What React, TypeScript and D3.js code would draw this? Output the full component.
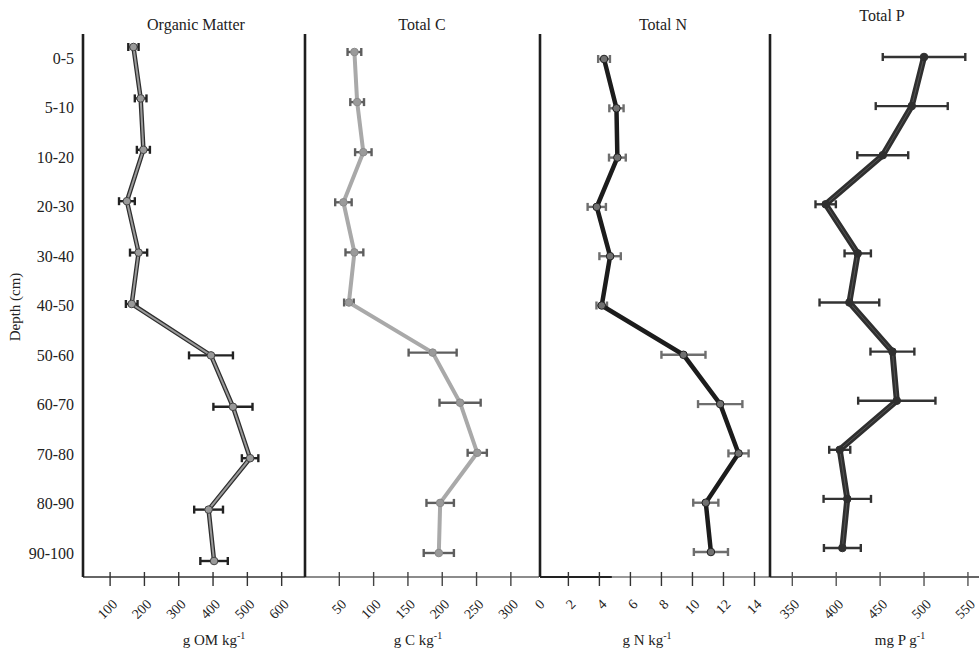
import React from "react";
import * as d3 from "d3";

const depths = ["0-5", "5-10", "10-20", "20-30", "30-40", "40-50", "50-60", "60-70", "70-80", "80-90", "90-100"];

const omMean = [168, 189, 197, 149, 183, 163, 394, 458, 508, 387, 403];
const omErr = [15, 17, 19, 23, 25, 17, 64, 57, 24, 42, 40];
const cMean = [72, 76, 85, 56, 72, 64, 186, 226, 251, 197, 195];
const cErr = [10, 10, 12, 12, 13, 7, 35, 30, 14, 20, 22];
const nMean = [4.3, 5.1, 5.16, 3.83, 4.69, 4.15, 9.42, 11.79, 12.97, 10.86, 11.19];
const nErr = [0.38, 0.46, 0.54, 0.59, 0.69, 0.34, 1.42, 1.43, 0.65, 0.81, 1.1];
const pMean = [500, 486, 453, 388, 424.5, 415, 464, 469, 404, 412.6, 407];
const pErr = [47, 41, 29, 11.6, 15, 34, 25, 44, 12, 27, 21];

const omTicks = [100, 200, 300, 400, 500, 600];
const cTicks = [50, 100, 150, 200, 250, 300];
const nTicks = [0, 2, 4, 6, 8, 10, 12, 14];
const pTicks = [350, 400, 450, 500, 550];

const titles = ["Organic Matter", "Total C", "Total N", "Total P"];
const units = [["g OM kg", "-1"], ["g C kg", "-1"], ["g N kg", "-1"], ["mg P g", "-1"]];

const FONT = "Liberation Serif, Tinos, DejaVu Serif, serif";
const AXIS_Y = 577;
const WALL_TOP = 34;

type Panel = {
  mean: number[];
  err: number[];
  ticks: number[];
  domain: [number, number];
  range: [number, number];
  yRange: [number, number];
  title: string;
  titleX: number;
  titleY: number;
  unit: string[];
  unitX: number;
  lineOuter: string;
  lineOuterW: number;
  lineInner: string | null;
  lineInnerW: number;
  dotFill: string;
  dotStroke: string;
  errColor: string;
  axisColor: string;
  tickColor: string;
  skipTick0: boolean;
};

const panels: Panel[] = [
  {
    mean: omMean, err: omErr, ticks: omTicks, domain: [21, 668], range: [83, 305], yRange: [47, 561],
    title: titles[0], titleX: 196, titleY: 30, unit: units[0], unitX: 214,
    lineOuter: "#2e2e2e", lineOuterW: 4.5, lineInner: "#9a9a9a", lineInnerW: 2,
    dotFill: "#999", dotStroke: "#444", errColor: "#222", axisColor: "#333", tickColor: "#333", skipTick0: false,
  },
  {
    mean: cMean, err: cErr, ticks: cTicks, domain: [0, 341], range: [305, 539], yRange: [52, 553],
    title: titles[1], titleX: 422, titleY: 30, unit: units[1], unitX: 418,
    lineOuter: "#a9a9a9", lineOuterW: 4, lineInner: null, lineInnerW: 0,
    dotFill: "#9a9a9a", dotStroke: "#8a8a8a", errColor: "#5e5e5e", axisColor: "#666", tickColor: "#444", skipTick0: false,
  },
  {
    mean: nMean, err: nErr, ticks: nTicks, domain: [0.17, 15.0], range: [540, 770], yRange: [59, 552],
    title: titles[2], titleX: 663, titleY: 30, unit: units[2], unitX: 647,
    lineOuter: "#1c1c1c", lineOuterW: 4.5, lineInner: null, lineInnerW: 0,
    dotFill: "#707070", dotStroke: "#222", errColor: "#6e6e6e", axisColor: "#777", tickColor: "#333", skipTick0: true,
  },
  {
    mean: pMean, err: pErr, ticks: pTicks, domain: [324.6, 562.6], range: [770, 979], yRange: [57, 548],
    title: titles[3], titleX: 882, titleY: 21, unit: units[3], unitX: 900,
    lineOuter: "#2f2f2f", lineOuterW: 6, lineInner: "#555", lineInnerW: 1,
    dotFill: "#2f2f2f", dotStroke: "#2f2f2f", errColor: "#333", axisColor: "#333", tickColor: "#555", skipTick0: false,
  },
];

const labelScale = d3.scalePoint<string>().domain(depths).range([58, 553]);

const txt = { fontFamily: FONT };

function PanelView({ p, idx }: { p: Panel; idx: number }) {
  const x = d3.scaleLinear().domain(p.domain).range(p.range);
  const y = d3.scalePoint<string>().domain(depths).range(p.yRange);
  const pts = depths.map((d, i) => ({ d, v: p.mean[i], e: p.err[i] }));
  const line = d3
    .line<{ d: string; v: number }>()
    .x((q) => x(q.v))
    .y((q) => y(q.d) as number);
  const path = line(pts) || "";
  const cap = 4;
  return (
    <g>
      <line x1={p.range[0]} x2={p.range[1]} y1={AXIS_Y} y2={AXIS_Y} stroke={p.axisColor} strokeWidth={1.6} />
      {idx === 2 && (
        <line x1={p.range[0]} x2={x(4.8)} y1={AXIS_Y} y2={AXIS_Y} stroke="#222" strokeWidth={2} />
      )}
      {p.ticks.map((t) => (
        <g key={t}>
          {!(p.skipTick0 && t === 0) && (
            <line x1={x(t)} x2={x(t)} y1={AXIS_Y - 5} y2={AXIS_Y + 9} stroke={p.tickColor} strokeWidth={1.4} />
          )}
          <text
            transform={`translate(${x(t) + 8},${605}) rotate(-45)`}
            textAnchor="end"
            style={txt}
            fontSize={14}
            fill="#222"
          >
            {t}
          </text>
        </g>
      ))}
      <text x={p.titleX} y={p.titleY} textAnchor="middle" style={txt} fontSize={16} fill="#222">
        {p.title}
      </text>
      <text x={p.unitX} y={645} textAnchor="middle" style={txt} fontSize={15} fill="#222">
        {p.unit[0]}
        <tspan dy={-6} fontSize={10}>{p.unit[1]}</tspan>
      </text>
      {pts.map((q) => {
        const yy = y(q.d) as number;
        const x0 = x(q.v - q.e);
        const x1 = x(q.v + q.e);
        return (
          <g key={"e" + q.d} stroke={p.errColor} strokeWidth={2.4}>
            <line x1={x0} x2={x1} y1={yy} y2={yy} />
            <line x1={x0} x2={x0} y1={yy - cap} y2={yy + cap} />
            <line x1={x1} x2={x1} y1={yy - cap} y2={yy + cap} />
          </g>
        );
      })}
      <path d={path} fill="none" stroke={p.lineOuter} strokeWidth={p.lineOuterW} strokeLinejoin="miter" />
      {p.lineInner && (
        <path d={path} fill="none" stroke={p.lineInner} strokeWidth={p.lineInnerW} strokeLinejoin="miter" />
      )}
      {pts.map((q) => (
        <circle
          key={"c" + q.d}
          cx={x(q.v)}
          cy={y(q.d) as number}
          r={3.8}
          fill={p.dotFill}
          stroke={p.dotStroke}
          strokeWidth={1}
        />
      ))}
    </g>
  );
}

export default function App() {
  const walls = [83, 305, 540, 770];
  return (
    <svg
      width={979}
      height={650}
      style={{ position: "absolute", left: 0, top: 0, background: "#fff" }}
    >
      <rect x={0} y={0} width={979} height={650} fill="#fff" />
      {panels.map((p, i) => (
        <PanelView key={i} p={p} idx={i} />
      ))}
      {walls.map((w) => (
        <line key={w} x1={w} x2={w} y1={WALL_TOP} y2={AXIS_Y} stroke="#1e1e1e" strokeWidth={2.6} />
      ))}
      {depths.map((d) => (
        <text
          key={d}
          x={74}
          y={labelScale(d) as number}
          dy="0.35em"
          textAnchor="end"
          style={txt}
          fontSize={16}
          fill="#222"
        >
          {d}
        </text>
      ))}
      <text
        transform="translate(20,307) rotate(-90)"
        textAnchor="middle"
        style={txt}
        fontSize={15}
        fill="#222"
      >
        Depth (cm)
      </text>
    </svg>
  );
}
